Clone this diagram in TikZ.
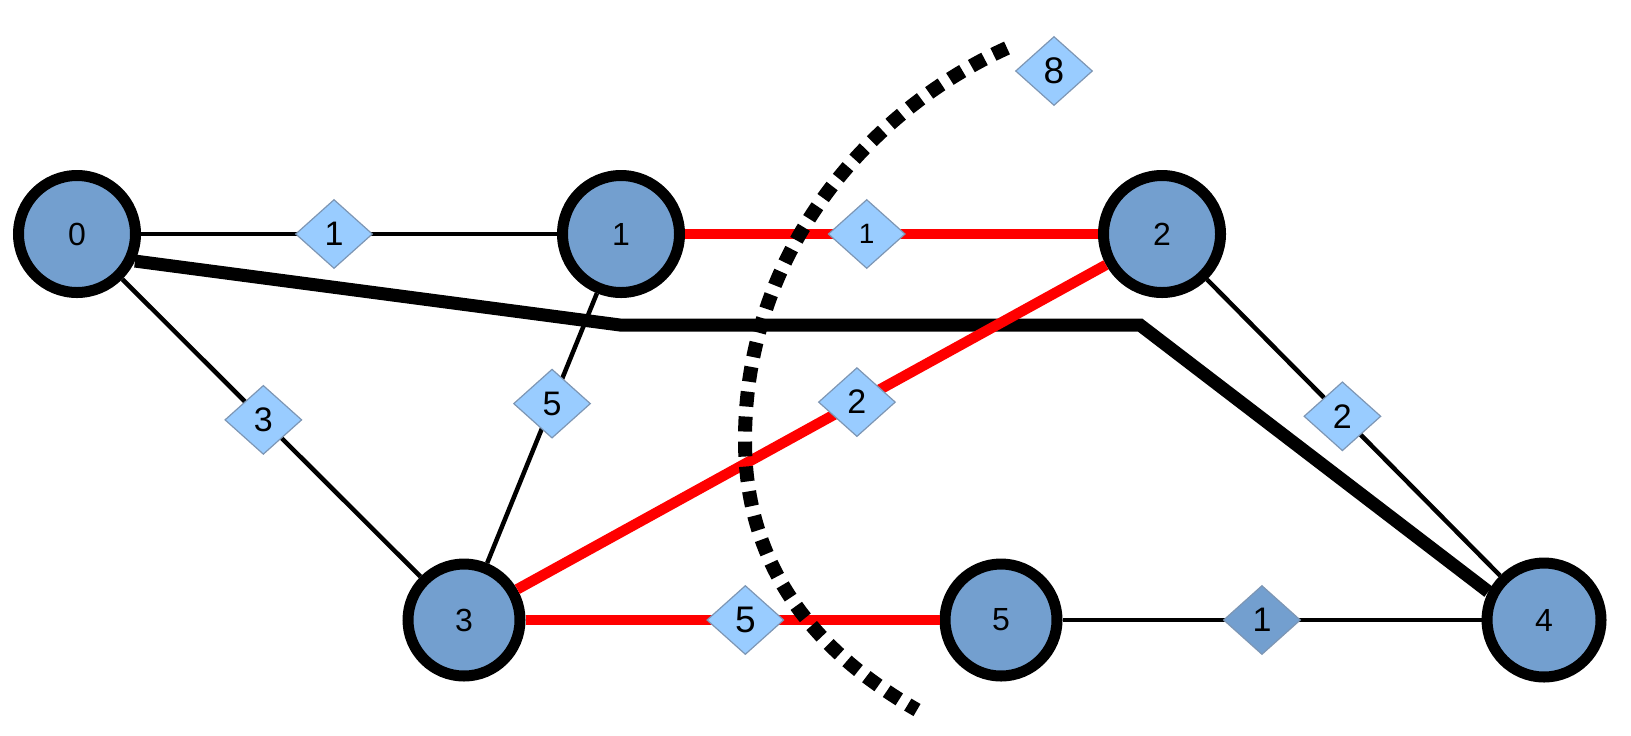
\documentclass[tikz,border=0pt]{standalone}
\usepackage{fontspec}
\setmainfont{Liberation Sans}
\usepackage{tikz}
\usetikzlibrary{shapes.geometric}
\definecolor{vfill}{RGB}{115,159,207}
\definecolor{wfill}{RGB}{153,204,255}
\definecolor{wline}{RGB}{125,150,180}

\begin{document}
\begin{tikzpicture}[x=0.5pt, y=-0.5pt,
  vert/.style={circle, draw=black, line width=5.5pt, fill=vfill, inner sep=0pt, minimum size=58.5pt, font=\fontsize{16}{19}\selectfont},
  wt/.style={diamond, draw=wline, line width=0.6pt, fill=wfill, inner sep=0pt, minimum width=38.5pt, minimum height=34.5pt, font=\fontsize{17}{20}\selectfont},
  plain/.style={draw=black, line width=2.25pt},
  redge/.style={draw=red, line width=5.25pt},
  heavy/.style={draw=black, line width=6.5pt},
  cutline/.style={draw=black, line width=7pt, dash pattern=on 7.5pt off 5pt}]
  \useasboundingbox (0,0) rectangle (1631,735);

  \node[vert] (n0) at (77,234) {0};
  \node[vert] (n1) at (621,234) {1};
  \node[vert] (n2) at (1162,234) {2};
  \node[vert, minimum size=56pt] (n3) at (464,620) {3};
  \node[vert, minimum size=56pt] (n5) at (1001,620) {5};
  \node[vert, minimum size=57pt] (n4) at (1544,620) {4};

  \coordinate (k1) at (620,325);
  \coordinate (k2) at (1140,325);
  \draw[heavy] (n0.-25) -- (k1) -- (k2) -- (n4.153);

  \path[plain]
  (n0) edge node[wt, pos=.464] {1} (n1)
  (n0) edge node[wt, pos=.473] {3} (n3)
  (n1) edge node[wt, pos=.409] {5} (n3)
  (n2) edge node[wt, pos=.462] {2} (n4)
  (n5) edge node[wt, pos=.476, fill=vfill] {1} (n4);
  \path[redge]
  (n1) edge node[wt, pos=.44, font=\fontsize{14}{17}\selectfont] {1} (n2)
  (n2) edge node[wt, pos=.423] {2} (n3.30)
  (n3) edge node[wt, pos=.531, font=\fontsize{18.5}{22}\selectfont] {5} (n5);

  \coordinate (c1) at (1007,48);
  \coordinate (c2) at (745,440);
  \coordinate (c3) at (917,710);
  \draw[cutline] (c1) .. controls (870,110) and (745,250) .. (c2)
    .. controls (745,580) and (830,660) .. (c3);

  \node[wt, font=\fontsize{18.5}{22}\selectfont] (d8) at (1054,71) {8};
\end{tikzpicture}
\end{document}
